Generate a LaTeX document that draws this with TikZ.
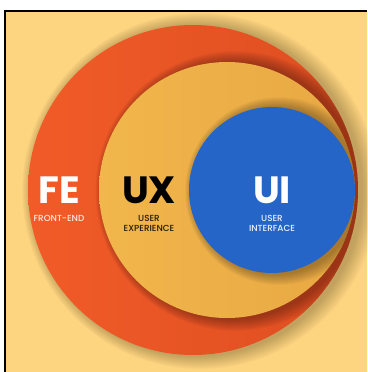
\documentclass[tikz,border=0pt]{standalone}
\usepackage{fontspec}
\setmainfont{Poppins}
\newfontfamily\medfont{Poppins Medium}
\usepackage{xcolor}
\usepackage{tikz}
\usetikzlibrary{positioning}

\definecolor{paper}{HTML}{FDD480}
\definecolor{feorange}{HTML}{F15B28}
\definecolor{fedark}{HTML}{DE4E21}
\definecolor{uxgold}{HTML}{F1B64C}
\definecolor{uxdark}{HTML}{E8A843}
\definecolor{uiblue}{HTML}{2565C7}

\begin{document}
\begin{tikzpicture}[x=1pt,y=-1pt,
  disc/.style={circle,inner sep=0pt,draw=none},
  big/.style={font=\fontsize{38}{40}\selectfont\bfseries},
  small/.style={font=\fontsize{8.8}{10.5}\selectfont\medfont,align=center,inner sep=0pt}]
\useasboundingbox (0,0) rectangle (367,372);
\fill[white] (0,0) rectangle (367,372);
\fill[paper] (4,10) rectangle (367,372);

% soft shadow round the outer disc
\foreach \k in {0,...,11}
  \fill[black,opacity=0.018] (197+\k*0.3,191) circle ({166pt+\k*1.1pt});
\node[disc,minimum size=330pt,left color=feorange,right color=fedark] (fe) at (193,190) {};

% UX disc and its shadow on FE
\begin{scope}
\clip (fe.center) circle (165pt);
\foreach \k in {0,...,11}
  \fill[black,opacity=0.028] (232+\k*0.3,191) circle ({129pt+\k*1.0pt});
\end{scope}
\node[disc,minimum size=256pt,left color=uxgold,right color=uxdark] (ux) at (227,190) {};

% UI disc and its shadow on UX
\begin{scope}
\clip (ux.center) circle (128pt);
\foreach \k in {0,...,10}
  \fill[black,opacity=0.026] (276+\k*0.3,191) circle ({84pt+\k*1.0pt});
\end{scope}
\node[disc,minimum size=166pt,fill=uiblue] (ui) at (272,190) {};

% frame on top and left
\draw[line width=1.6pt] (4.8,372) -- (4.8,10.8) -- (367,10.8);

% labels
\node[big,text=white] (feT) at (59,190) {FE};
\node[small,text=white!85!feorange,below=8pt of feT] (feS) {FRONT-END};
\node[big,text=black] (uxT) at (149,190) {UX};
\node[small,text=black!85!uxgold,below=8pt of uxT] (uxS) {USER\\EXPERIENCE};
\node[big,text=white] (uiT) at (272,190) {UI};
\node[small,text=white!90!uiblue,below=8pt of uiT] (uiS) {USER\\INTERFACE};
\end{tikzpicture}
\end{document}
